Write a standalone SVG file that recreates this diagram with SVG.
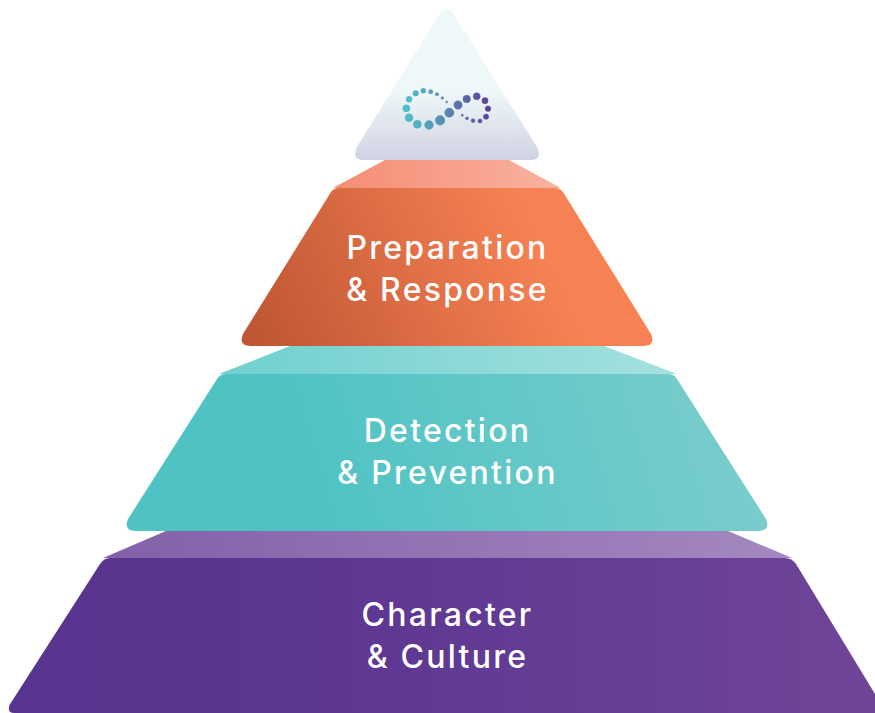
<svg xmlns="http://www.w3.org/2000/svg" width="875" height="713" viewBox="0 0 875 713">
<style>
text{font-family:"Inter","Liberation Sans",sans-serif;font-size:32px;font-weight:500;fill:#fff;text-anchor:middle;letter-spacing:2.25px}
</style>
<defs>
<linearGradient id="gTop" x1="0" y1="0" x2="0" y2="1"><stop offset="0" stop-color="#eff8f9"/><stop offset=".55" stop-color="#eff7f8"/><stop offset="1" stop-color="#d0d2e3"/></linearGradient>
<linearGradient id="gOr" gradientUnits="userSpaceOnUse" x1="255" y1="350" x2="530" y2="225"><stop offset="0" stop-color="#bf5533"/><stop offset="1" stop-color="#f68253"/></linearGradient>
<linearGradient id="gOrT" gradientUnits="userSpaceOnUse" x1="333" y1="0" x2="561" y2="0"><stop offset="0" stop-color="#f58d74"/><stop offset="1" stop-color="#f9b2a0"/></linearGradient>
<linearGradient id="gTe" gradientUnits="userSpaceOnUse" x1="330" y1="530" x2="770" y2="400"><stop offset="0" stop-color="#4fc3c4"/><stop offset="1" stop-color="#7dcdcc"/></linearGradient>
<linearGradient id="gTeT" gradientUnits="userSpaceOnUse" x1="219" y1="0" x2="677" y2="0"><stop offset="0" stop-color="#6fd0cf"/><stop offset="1" stop-color="#a5e1df"/></linearGradient>
<linearGradient id="gPu" gradientUnits="userSpaceOnUse" x1="10" y1="0" x2="875" y2="0"><stop offset="0" stop-color="#57348f"/><stop offset=".4" stop-color="#5d3792"/><stop offset="1" stop-color="#6f4598"/></linearGradient>
<linearGradient id="gPuT" gradientUnits="userSpaceOnUse" x1="103" y1="0" x2="792" y2="0"><stop offset="0" stop-color="#8261a8"/><stop offset="1" stop-color="#a488bf"/></linearGradient>
<linearGradient id="gDot" gradientUnits="userSpaceOnUse" x1="405" y1="0" x2="490" y2="0"><stop offset="0" stop-color="#4fc1c4"/><stop offset=".5" stop-color="#5a86b2"/><stop offset="1" stop-color="#5b3f98"/></linearGradient>
</defs>
<g id="tier-purple">
<path d="M166 531H728L792 558H103Z" fill="url(#gPuT)"/>
<path d="M110 558H785Q792 558 796 564L875 694V713H14Q7 713 9.500 705L100 564Q104 558 110 558Z" fill="url(#gPu)"/>
<text x="447.500" y="625.500">Character</text>
<text x="447.500" y="668">&amp; Culture</text>
</g>
<g id="tier-teal">
<path d="M290 346H604L677 374H219Z" fill="url(#gTeT)"/>
<path d="M226 374H668Q674 374 677 379L766 519Q771 531 758 531H136Q123 531 128 519L217 379Q220 374 226 374Z" fill="url(#gTe)"/>
<text x="447.500" y="441.500">Detection</text>
<text x="447.500" y="483.500">&amp; Prevention</text>
</g>
<g id="tier-orange">
<path d="M385 160H509L561 188H333Z" fill="url(#gOrT)"/>
<path d="M339 188H555Q560 188 563 192L651 334Q656 346 643 346H251Q238 346 243 334L331 192Q334 188 339 188Z" fill="url(#gOr)"/>
<text x="447.500" y="258.500">Preparation</text>
<text x="447.500" y="300.500">&amp; Response</text>
</g>
<g id="tier-top">
<path d="M440 13Q446.500 5 453 13L537 147Q543 160 530 160H364Q351 160 357 147Z" fill="url(#gTop)"/>
<g id="infinity-logo" fill="url(#gDot)" stroke="url(#gDot)" stroke-width=".5">
<circle cx="446.700" cy="102" r="1"/><circle cx="442.300" cy="98" r="1.300"/><circle cx="437" cy="94.300" r="1.700"/><circle cx="430.700" cy="91.700" r="2.200"/><circle cx="423.300" cy="90.700" r="2.500"/><circle cx="415.700" cy="93.300" r="2.800"/><circle cx="409" cy="99.300" r="3"/><circle cx="406.300" cy="108.300" r="3.600"/><circle cx="409" cy="117.700" r="3.900"/><circle cx="417.300" cy="124.300" r="4"/><circle cx="429" cy="125" r="4.400"/><circle cx="440" cy="120.300" r="4.800"/><circle cx="449.300" cy="112.700" r="4.600"/><circle cx="458" cy="105" r="4.200"/><circle cx="466.700" cy="99" r="3.800"/><circle cx="476.700" cy="96.300" r="3.500"/><circle cx="485" cy="100.700" r="3.100"/><circle cx="488" cy="108.700" r="2.800"/><circle cx="486" cy="116.700" r="2.600"/><circle cx="480" cy="121" r="2.100"/><circle cx="473" cy="120.700" r="1.900"/><circle cx="467" cy="118.300" r="1.500"/><circle cx="462.300" cy="115.300" r="1.100"/>
</g>
</g>
</svg>
